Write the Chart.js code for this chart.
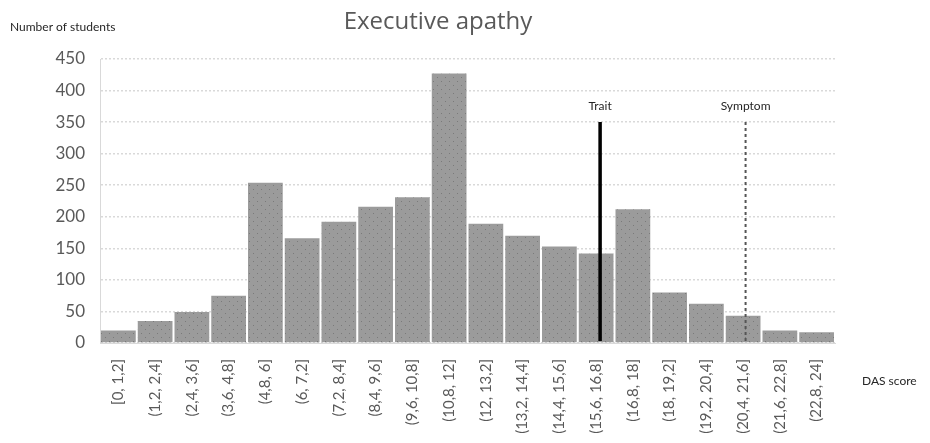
<!DOCTYPE html>
<html>
<head>
<meta charset="utf-8">
<script src="https://cdn.jsdelivr.net/npm/chart.js@4/dist/chart.umd.min.js"></script>
<style>
  html, body { margin: 0; padding: 0; background: #fff; }
  #wrap { width: 930px; height: 443px; position: relative; }
</style>
</head>
<body>
<div id="wrap"><canvas id="chart"></canvas></div>
<script>
// Histogram of DAS executive apathy scores
const binLabels = ['[0, 1,2]', '(1,2, 2,4]', '(2,4, 3,6]', '(3,6, 4,8]', '(4,8, 6]', '(6, 7,2]',
  '(7,2, 8,4]', '(8,4, 9,6]', '(9,6, 10,8]', '(10,8, 12]', '(12, 13,2]', '(13,2, 14,4]',
  '(14,4, 15,6]', '(15,6, 16,8]', '(16,8, 18]', '(18, 19,2]', '(19,2, 20,4]', '(20,4, 21,6]',
  '(21,6, 22,8]', '(22,8, 24]'];
const studentCounts = [20, 35, 49, 75, 254, 166, 192, 216, 231, 427, 189, 170, 153, 142, 212, 80, 62, 43, 20, 17];
const yTicks = [0, 50, 100, 150, 200, 250, 300, 350, 400, 450];

// cut-off lines (DAS score, count range)
const traitCut = 16.33;
const symptomCut = 21.08;
const cutRange = [350, 3];

const FONT = 'Lato, "Open Sans", sans-serif';

// dotted grey fill like the original
function makePattern() {
  const c = document.createElement('canvas');
  c.width = 8; c.height = 8;
  const g = c.getContext('2d');
  g.fillStyle = '#9b9b9b';
  g.fillRect(0, 0, 8, 8);
  g.fillStyle = '#7a7a7a';
  g.fillRect(1, 1, 1, 1);
  g.fillRect(5, 5, 1, 1);
  return g.createPattern(c, 'repeat');
}

const textPlugin = {
  id: 'texts',
  afterDraw(chart) {
    const ctx = chart.ctx;
    const x2 = chart.scales.x2;
    const y = chart.scales.y;
    ctx.save();
    ctx.fillStyle = '#595959';
    ctx.font = '24px "Open Sans", sans-serif';
    ctx.textAlign = 'center';
    ctx.textBaseline = 'middle';
    ctx.fillText('Executive apathy', 438, 22);

    ctx.fillStyle = '#262626';
    ctx.font = '12px ' + FONT;
    ctx.textAlign = 'left';
    ctx.fillText('Number of students', 10, 27);
    ctx.fillText('DAS score', 862, 381);

    ctx.textAlign = 'center';
    ctx.fillText('Trait', x2.getPixelForValue(traitCut), y.getPixelForValue(375));
    ctx.fillText('Symptom', x2.getPixelForValue(symptomCut), y.getPixelForValue(375));
    ctx.restore();
  }
};

const ctx = document.getElementById('chart').getContext('2d');
new Chart(ctx, {
  type: 'bar',
  data: {
    labels: binLabels,
    datasets: [
      {
        type: 'bar',
        data: studentCounts,
        backgroundColor: makePattern(),
        borderWidth: 0,
        grouped: false,
        barPercentage: 1,
        categoryPercentage: 0.945,
        order: 2
      },
      {
        type: 'line',
        xAxisID: 'x2',
        data: [{ x: traitCut, y: cutRange[0] }, { x: traitCut, y: cutRange[1] }],
        borderColor: '#000',
        borderWidth: 3.5,
        pointRadius: 0,
        order: 1
      },
      {
        type: 'line',
        xAxisID: 'x2',
        data: [{ x: symptomCut, y: cutRange[0] }, { x: symptomCut, y: 0 }],
        borderColor: '#555',
        borderWidth: 2,
        borderDash: [3, 3],
        pointRadius: 0,
        order: 1
      }
    ]
  },
  options: {
    responsive: true,
    maintainAspectRatio: false,
    animation: false,
    layout: { padding: { top: 59, right: 95, left: 0, bottom: 0 } },
    plugins: {
      legend: { display: false },
      title: { display: false },
      tooltip: { enabled: false }
    },
    scales: {
      x: {
        grid: { display: false },
        border: { color: '#d9d9d9' },
        ticks: {
          color: '#595959',
          font: { family: FONT, size: 15 },
          maxRotation: 90,
          minRotation: 90,
          autoSkip: false,
          padding: 8
        },
        afterFit(scale) { scale.height = 100; }
      },
      x2: {
        type: 'linear',
        min: 0,
        max: 24,
        offset: false,
        display: false
      },
      y: {
        min: 0,
        max: 450,
        afterBuildTicks(scale) { scale.ticks = yTicks.map(v => ({ value: v })); },
        grid: { color: '#d9d9d9', lineWidth: 1.5, drawTicks: false },
        border: { display: true, color: '#d9d9d9', dash: [2, 2] },
        ticks: {
          color: '#595959',
          font: { family: FONT, size: 17 },
          padding: 15
        },
        afterFit(scale) { scale.width = 100; }
      }
    }
  },
  plugins: [textPlugin]
});
</script>
</body>
</html>
